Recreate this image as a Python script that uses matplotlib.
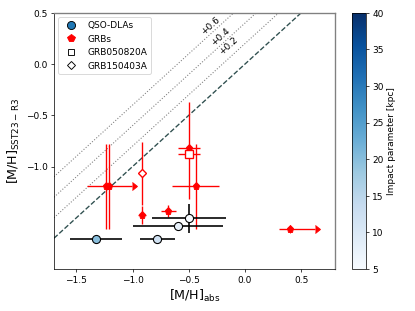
import numpy as np
import matplotlib

matplotlib.use("Agg")
import matplotlib.pyplot as plt
from matplotlib.lines import Line2D
from matplotlib.colors import Normalize

# QSO-DLAs (coloured by impact parameter)
qso_x = [-1.325, -0.781, -0.600, -0.499]
qso_y = [-1.703, -1.703, -1.585, -1.507]
qso_xerr = [0.23, 0.155, 0.40, 0.33]
qso_yerr = [0.0, 0.0, 0.0, 0.14]
qso_b = [20, 12, 8, 5]

# GRBs (filled red)
grb_x = [-1.236, -1.211, -0.919, -0.683, -0.495, -0.440, 0.404]
grb_y = [-1.19, -1.19, -1.474, -1.431, -0.82, -1.186, -1.611]
grb_xerr_lo = [0.17, 0.0, 0.035, 0.067, 0.098, 0.208, 0.10]
grb_xerr_hi = [0.0, 0.0, 0.035, 0.067, 0.098, 0.207, 0.0]
grb_yerr_lo = [0.42, 0.42, 0.09, 0.06, 0.50, 0.42, 0.0]
grb_yerr_hi = [0.41, 0.41, 0.09, 0.06, 0.445, 0.41, 0.0]
# lower limits in [M/H]_abs (arrow to the right)
lim_x = [-1.236, 0.404]
lim_y = [-1.19, -1.611]
lim_len = [0.23, 0.22]

# GRB050820A / GRB150403A alternative values (open symbols)
sq_x, sq_y, sq_xerr = -0.495, -0.876, 0.098
dia_x, dia_y, dia_yerr = -0.919, -1.066, 0.305

offsets = [0.2, 0.4, 0.6]
off_lab_x = [-0.150, -0.218, -0.308]
off_lab_y = [0.179, 0.268, 0.371]

fig = plt.figure(figsize=(6.4, 4.8), dpi=64.85)
ax = fig.add_axes([0.130, 0.135, 0.677, 0.823])
cax = fig.add_axes([0.848, 0.135, 0.034, 0.823])

xx = np.array([-1.7, 0.8])
ax.plot(xx, xx, ls="--", color="darkslategray", lw=1.5, zorder=1)
for off, tx, ty in zip(offsets, off_lab_x, off_lab_y):
    ax.plot(xx, xx + off, ls=":", color="gray", lw=1.2, zorder=1)
    ax.text(tx, ty, f"+{off:.1f}", rotation=42, ha="center", va="center", fontsize=10)

cmap = plt.get_cmap("Blues")
norm = Normalize(vmin=5, vmax=40)

# GRBs
ax.errorbar(grb_x, grb_y,
            xerr=[grb_xerr_lo, grb_xerr_hi], yerr=[grb_yerr_lo, grb_yerr_hi],
            fmt="p", color="red", ms=8, elinewidth=1.5, capsize=0, zorder=3)
ax.errorbar(lim_x, lim_y, xerr=lim_len, xlolims=True, fmt="none",
            color="red", ecolor="red", elinewidth=1.5, capsize=4, zorder=3)
ax.errorbar(sq_x, sq_y, xerr=sq_xerr, fmt="s", mfc="white", mec="red", mew=1.5,
            ecolor="red", ms=8, elinewidth=1.5, zorder=4)
ax.errorbar(dia_x, dia_y, yerr=dia_yerr, fmt="D", mfc="white", mec="red", mew=1.5,
            ecolor="red", ms=7, elinewidth=1.5, zorder=4)

# QSO-DLAs
for x, y, xe, ye, b in zip(qso_x, qso_y, qso_xerr, qso_yerr, qso_b):
    ax.errorbar(x, y, xerr=xe, yerr=ye if ye > 0 else None, fmt="o",
                mfc=cmap(norm(b)), mec="black", mew=1.2, ecolor="black",
                ms=9, elinewidth=1.8, zorder=5)

ax.set_xlim(-1.7, 0.8)
ax.set_ylim(-2.0, 0.5)
ax.set_xticks([-1.5, -1.0, -0.5, 0.0, 0.5])
ax.set_yticks([-1.0, -0.5, 0.0, 0.5])
ax.set_xlabel(r"[M/H]$_{\rm abs}$", fontsize=14)
ax.set_ylabel(r"[M/H]$_{\rm SST23-R3}$", fontsize=14)
for side in ("top", "right"):
    ax.spines[side].set_color("gray")
    ax.spines[side].set_linewidth(1.5)

handles = [
    Line2D([], [], ls="none", marker="o", ms=9, mfc="#1f77b4", mec="black", label="QSO-DLAs"),
    Line2D([], [], ls="none", marker="p", ms=9, color="red", label="GRBs"),
    Line2D([], [], ls="none", marker="s", ms=7, mfc="white", mec="black", label="GRB050820A"),
    Line2D([], [], ls="none", marker="D", ms=7, mfc="white", mec="black", label="GRB150403A"),
]
ax.legend(handles=handles, loc="upper left", fontsize=10)

sm = plt.cm.ScalarMappable(cmap=cmap, norm=norm)
cb = fig.colorbar(sm, cax=cax)
cb.set_ticks([5, 10, 15, 20, 25, 30, 35, 40])
cb.set_label("Impact parameter [kpc]", fontsize=10)

fig.savefig("out.png", dpi=64.85)
